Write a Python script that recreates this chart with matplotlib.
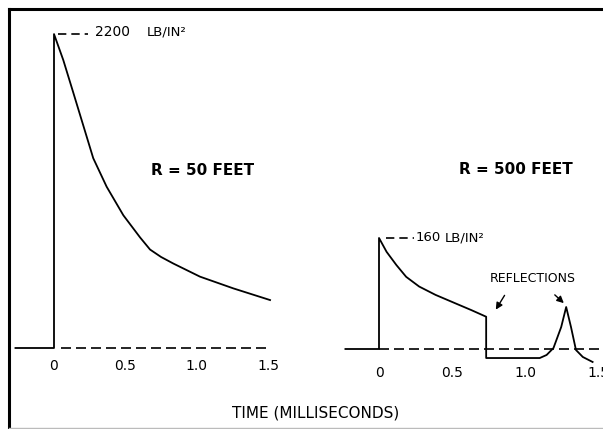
'''
Blast pressure-time curves at two ranges
'''
import matplotlib
matplotlib.use("Agg")
import matplotlib.pyplot as plt
from matplotlib.lines import Line2D

# R = 50 feet: time (ms) and overpressure (lb/in^2)
near_t = [-0.27, 0, 0, 0.065, 0.135, 0.205, 0.275, 0.369, 0.486, 0.603, 0.673,
          0.75, 0.836, 1.023, 1.256, 1.514]
near_p = [0, 0, 2200, 2018, 1790, 1560, 1330, 1130, 930, 775, 690,
          638, 592, 500, 418, 336]
near_peak = 2200

# R = 500 feet
far_t = [-0.23, 0, 0, 0.052, 0.119, 0.186, 0.275, 0.387, 0.521, 0.633, 0.734,
         0.734, 1.101, 1.148, 1.195, 1.248, 1.282, 1.315, 1.349, 1.396, 1.463]
far_p = [0, 0, 160, 140, 121, 104, 90, 78, 66, 56, 46.5,
         -13, -13, -8.6, 1.4, 31.7, 60.5, 31.7, -1.4, -11.5, -18.7]
far_peak = 160

tick_vals = [0, 0.5, 1.0, 1.5]
tick_labels = ["0", "0.5", "1.0", "1.5"]

W, H = 603, 429
fig = plt.figure(figsize=(W / 100, H / 100), dpi=100)


def place_axes(x0_px, px_per_x, base_px, px_per_y, xlim, ylim):
    # axes rect from a pixel mapping (pixels measured from top-left)
    left = x0_px + xlim[0] * px_per_x
    right = x0_px + xlim[1] * px_per_x
    bottom = base_px - ylim[0] * px_per_y
    top = base_px - ylim[1] * px_per_y
    ax = fig.add_axes([left / W, 1 - bottom / H, (right - left) / W, (bottom - top) / H])
    ax.set_xlim(xlim)
    ax.set_ylim(ylim)
    ax.patch.set_alpha(0)
    for s in ax.spines.values():
        s.set_visible(False)
    ax.set_yticks([])
    ax.set_xticks(tick_vals)
    ax.set_xticklabels(tick_labels)
    ax.tick_params(axis="x", length=0, labelsize=10, pad=1.5)
    return ax


ax1 = place_axes(54, 142.7, 348, 0.1427, (-0.3, 1.6), (-63, 2400))
ax2 = place_axes(379, 146, 349, 0.694, (-0.3, 1.55), (-21, 320))

lw = 1.3
dash = (0, (6, 3))

# near curve
ax1.plot(near_t, near_p, color="black", lw=lw, clip_on=False, solid_joinstyle="round")
ax1.plot([0.05, 1.5], [0, 0], color="black", lw=1.2, linestyle=dash)
ax1.plot([0.03, 0.24], [near_peak, near_peak], color="black", lw=1.2, linestyle=(0, (5, 3)))
ax1.text(0.287, 2215, "2200", fontsize=10, va="center", ha="left")
ax1.text(0.652, 2215, "LB/IN\u00b2", fontsize=9.5, va="center", ha="left")
ax1.text(1.04, 1243, "R = 50 FEET", fontsize=11, fontweight="bold", ha="center", va="center")

# far curve
ax2.plot(far_t, far_p, color="black", lw=lw, clip_on=False, solid_joinstyle="round")
ax2.plot([0, 1.55], [0, 0], color="black", lw=1.2, linestyle=dash, clip_on=False)
ax2.plot([0.05, 0.24], [far_peak, far_peak], color="black", lw=1.2, linestyle=(0, (5, 3)))
ax2.text(0.25, far_peak, "160", fontsize=9.5, va="center", ha="left")
ax2.text(0.45, far_peak, "LB/IN\u00b2", fontsize=9.5, va="center", ha="left")
ax2.text(0.94, 258, "R = 500 FEET", fontsize=11, fontweight="bold", ha="center", va="center")

ax2.text(1.05, 102, "REFLECTIONS", fontsize=9, ha="center", va="center")
arrow = dict(arrowstyle="-|>", color="black", lw=1.0, mutation_scale=10)
ax2.annotate("", xy=(0.79, 53.3), xytext=(0.87, 80.7), arrowprops=arrow)
ax2.annotate("", xy=(1.28, 63.4), xytext=(1.19, 80.7), arrowprops=arrow)

fig.text(316 / W, 1 - 413 / H, "TIME (MILLISECONDS)", fontsize=11, ha="center", va="center")

# scanned frame: heavy top and left edges, faint bottom edge
fig.add_artist(Line2D([9 / W, 1], [1 - 9 / H, 1 - 9 / H], color="black", lw=2.2))
fig.add_artist(Line2D([9 / W, 9 / W], [1 - 9 / H, 0], color="black", lw=2.2))
fig.add_artist(Line2D([9 / W, 1], [1 / H, 1 / H], color="#bbbbbb", lw=1))

plt.savefig("out.png", dpi=100)
